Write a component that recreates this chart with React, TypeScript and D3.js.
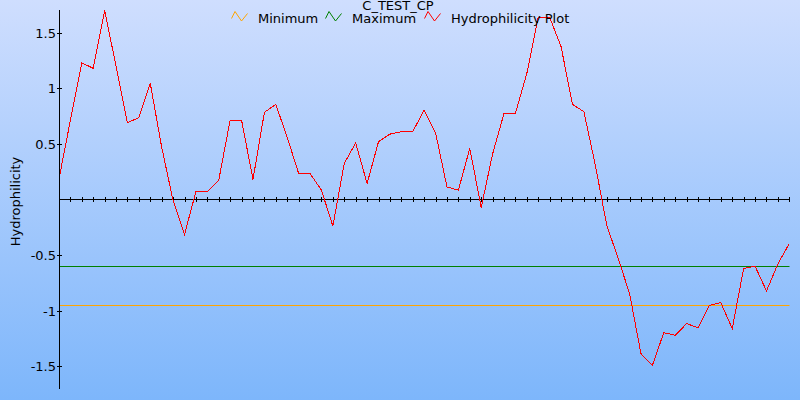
import React from "react";
import * as d3 from "d3";

const title = "C_TEST_CP";
const yLabel = "Hydrophilicity";
const seriesNames = ["Minimum", "Maximum", "Hydrophilicity Plot"];
const seriesColors = ["#ffa500", "#008000", "#ff0000"];

// residue positions (first one lies just left of the plot and is clipped)
const positions = d3.range(-1, 64);
const hydrophilicity = [
  0.184, 0.714, 1.23, 1.18, 1.7, 1.2, 0.69, 0.737, 1.045, 0.47,
  -0.01, -0.315, 0.072, 0.072, 0.174, 0.714, 0.714, 0.18, 0.784, 0.856,
  0.56, 0.234, 0.234, 0.084, -0.24, 0.324, 0.51, 0.144, 0.52, 0.588,
  0.61, 0.61, 0.805, 0.6, 0.113, 0.084, 0.46, -0.072, 0.41, 0.775,
  0.775, 1.135, 1.64, 1.64, 1.375, 0.856, 0.79, 0.31, -0.23, -0.53,
  -0.845, -1.387, -1.493, -1.198, -1.222, -1.117, -1.153, -0.952, -0.928, -1.162,
  -0.62, -0.6, -0.823, -0.58, -0.396,
];
const minimumValue = -0.952;
const maximumValue = -0.595;
const yTicks = [1.5, 1, 0.5, -0.5, -1, -1.5];
const yTickLabels = ["1.5", "1", "0.5", "-0.5", "-1", "-1.5"];
const xTicks = d3.range(0, 64);

const W = 800;
const H = 400;
const plotLeft = 60;
const plotRight = 789.5;
const plotTop = 10;
const plotBottom = 389;

export default function App() {
  const x = d3.scaleLinear().domain([0, 63]).range([70.4, 789.3]);
  const y = d3.scaleLinear().domain([-1.705, 1.705]).range([plotBottom, plotTop]);
  const pts = positions.map((p, i) => [p, hydrophilicity[i]] as [number, number]);
  const line = d3
    .line<[number, number]>()
    .x((d) => x(d[0]))
    .y((d) => y(d[1]));
  const y0 = Math.round(y(0)) - 0.5;
  const font = "'DejaVu Sans', Verdana, sans-serif";

  const legendItems = [
    { name: seriesNames[0], color: seriesColors[0], ix: 231.5, tx: 258 },
    { name: seriesNames[1], color: seriesColors[1], ix: 325.5, tx: 352 },
    { name: seriesNames[2], color: seriesColors[2], ix: 424.5, tx: 451 },
  ];
  const icon = (x0: number) =>
    `M${x0},18.5 L${x0 + 3.5},11.5 L${x0 + 10},21 L${x0 + 16},13.5`;

  return (
    <svg
      width={W}
      height={H}
      style={{ position: "absolute", left: 0, top: 0, display: "block" }}
      fontFamily={font}
    >
      <defs>
        <linearGradient id="bg" x1="0" y1="0" x2="0" y2="1">
          <stop offset="0%" stopColor="#cfdefe" />
          <stop offset="100%" stopColor="#7db6fb" />
        </linearGradient>
        <clipPath id="plotClip">
          <rect x={plotLeft} y={0} width={plotRight - plotLeft + 1} height={H} />
        </clipPath>
      </defs>
      <rect x={0} y={0} width={W} height={H} fill="url(#bg)" />

      {/* min / max reference lines */}
      <line
        x1={plotLeft}
        x2={plotRight}
        y1={Math.round(y(maximumValue)) + 0.5}
        y2={Math.round(y(maximumValue)) + 0.5}
        stroke={seriesColors[1]}
        strokeWidth={1}
      />
      <line
        x1={plotLeft}
        x2={plotRight}
        y1={Math.round(y(minimumValue)) + 0.5}
        y2={Math.round(y(minimumValue)) + 0.5}
        stroke={seriesColors[0]}
        strokeWidth={1}
      />

      {/* x axis */}
      <line x1={plotLeft} x2={plotRight} y1={y0} y2={y0} stroke="#000" strokeWidth={1} />
      {xTicks.map((t) => {
        const xx = Math.round(x(t)) + 0.5;
        return (
          <line key={t} x1={xx} x2={xx} y1={y0 - 2.5} y2={y0 + 2.5} stroke="#000" strokeWidth={1} />
        );
      })}

      {/* data line */}
      <g clipPath="url(#plotClip)">
        <path
          d={line(pts) || ""}
          fill="none"
          stroke={seriesColors[2]}
          strokeWidth={1}
          shapeRendering="crispEdges"
        />
      </g>

      {/* y axis */}
      <line x1={59.5} x2={59.5} y1={plotTop} y2={plotBottom} stroke="#000" strokeWidth={1} />
      {yTicks.map((t, i) => {
        const yy = Math.round(y(t)) + 0.5;
        return (
          <g key={t}>
            <line x1={57} x2={62} y1={yy} y2={yy} stroke="#000" strokeWidth={1} />
            <text x={56} y={yy} dy="0.35em" textAnchor="end" fontSize={13} fill="#000">
              {yTickLabels[i]}
            </text>
          </g>
        );
      })}

      <text
        transform="translate(19.5,201.5) rotate(-90)"
        textAnchor="middle"
        fontSize={13}
        fill="#000"
      >
        {yLabel}
      </text>

      {/* title */}
      <text x={398} y={10} textAnchor="middle" fontSize={13} fill="#000">
        {title}
      </text>

      {/* legend */}
      {legendItems.map((it) => (
        <g key={it.name}>
          <path d={icon(it.ix)} fill="none" stroke={it.color} strokeWidth={1} />
          <text x={it.tx} y={23} fontSize={13} fill="#000">
            {it.name}
          </text>
        </g>
      ))}
    </svg>
  );
}
